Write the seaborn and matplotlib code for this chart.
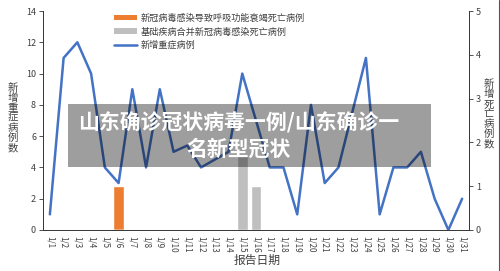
import numpy as np
import pandas as pd
import matplotlib
matplotlib.use("Agg")
import matplotlib.pyplot as plt
import seaborn as sns
from matplotlib.patches import Patch, Rectangle
from matplotlib.lines import Line2D

# ---------------- data ----------------
dates = [f"1/{d}" for d in range(1, 32)]
severe_cases = [1, 11, 12, 10, 4, 3, 9, 4, 9, 5, 5.4, 4, 4.5, 5, 10, 7, 4, 4, 1, 8,
                3, 4, 7.5, 11, 1, 4, 4, 5, 2, 0, 2]
resp_deaths = [0, 0, 0, 0, 0, 1, 0, 0, 0, 0, 0, 0, 0, 0, 0, 0, 0, 0, 0, 0,
               0, 0, 0, 0, 0, 0, 0, 0, 0, 0, 0]
basic_deaths = [0, 0, 0, 0, 0, 0, 0, 0, 0, 0, 0, 0, 0, 0, 1.7, 1, 0, 0, 0, 0,
                0, 0, 0, 0, 0, 0, 0, 0, 0, 0, 0]
left_ticks = [0, 2, 4, 6, 8, 10, 12, 14]
right_ticks = [0, 1, 2, 3, 4, 5]
legend_labels = ["新冠病毒感染导致呼吸功能衰竭死亡病例", "基础疾病合并新冠病毒感染死亡病例", "新增重症病例"]
left_label = "新增重症病例数"
right_label = "新增死亡病例数"
x_label = "报告日期"
overlay_title = "山东确诊冠状病毒一例/山东确诊一\n名新型冠状"

df = pd.DataFrame({"date": dates, "severe": severe_cases,
                   "resp": resp_deaths, "basic": basic_deaths})
df["pos"] = np.arange(len(df))

# ---------------- style ----------------
sns.set_style("white")
plt.rcParams["font.family"] = ["Noto Sans CJK SC", "DejaVu Sans"]
plt.rcParams["axes.unicode_minus"] = False

ORANGE = "#ED7D31"
GRAY = "#BFBFBF"
BLUE = "#4472C4"
TXT = "#404040"

fig = plt.figure(figsize=(5.0, 2.71), dpi=100)
ax = fig.add_axes([0.086, 0.1513, 0.852, 0.8081])
ax2 = ax.twinx()

# bars on right axis
sns.barplot(data=df, x="pos", y="resp", color=ORANGE, width=0.8, ax=ax2,
            saturation=1, native_scale=True)
sns.barplot(data=df, x="pos", y="basic", color=GRAY, width=0.8, ax=ax2,
            saturation=1, native_scale=True)

# line on left axis
sns.lineplot(data=df, x="pos", y="severe", color=BLUE, linewidth=1.8, ax=ax)

ax.set_zorder(ax2.get_zorder() + 1)
ax.patch.set_visible(False)

n = len(dates)
for a in (ax, ax2):
    a.set_xlim(-0.5, n - 0.5)
ax.set_ylim(0, 14)
ax2.set_ylim(0, 5)

# x ticks: boundaries as major ticks, labels at centers
ax.set_xticks(np.arange(n + 1) - 0.5)
ax.set_xticklabels([])
ax.set_xticks(np.arange(n), minor=True)
ax.set_xticklabels(dates, minor=True, rotation=-90, fontsize=5.8, color=TXT)
ax.tick_params(axis="x", which="major", length=3, width=0.6, color="#333333", direction="out")
ax.tick_params(axis="x", which="minor", length=0, pad=4)
ax2.set_xticks([])

ax.set_yticks(left_ticks)
ax.set_yticklabels([str(t) for t in left_ticks], fontsize=6.5, color=TXT)
ax.tick_params(axis="y", length=3, width=0.6, color="#333333", direction="out", pad=2, left=True)
ax2.set_yticks(right_ticks)
ax2.set_yticklabels([str(t) for t in right_ticks], fontsize=6.5, color=TXT)
ax2.tick_params(axis="y", length=3, width=0.6, color="#333333", direction="out", pad=2, right=True)

for a in (ax, ax2):
    a.spines["top"].set_visible(False)
    for s in ("left", "right", "bottom"):
        a.spines[s].set_color("#333333")
        a.spines[s].set_linewidth(0.7)
ax.spines["right"].set_visible(False)
ax2.spines["left"].set_visible(False)
ax2.spines["bottom"].set_visible(False)

ax.set_xlabel("")
ax.set_ylabel("")
ax2.set_xlabel("")
ax2.set_ylabel("")

# axis titles (stacked characters)
fig.text(12.5 / 500, 1 - 118 / 271, "\n".join(left_label), ha="center", va="center",
         fontsize=7.5, color=TXT, linespacing=1.0)
fig.text(489 / 500, 1 - 114 / 271, "\n".join(right_label), ha="center", va="center",
         fontsize=7.5, color=TXT, linespacing=1.0)
fig.text(257 / 500, 1 - 260 / 271, x_label, ha="center", va="center", fontsize=8.5, color=TXT)

# legend
handles = [Patch(facecolor=ORANGE, edgecolor="none"),
           Patch(facecolor=GRAY, edgecolor="none"),
           Line2D([0], [0], color=BLUE, linewidth=1.8)]
leg = ax.legend(handles, legend_labels, loc="upper left", bbox_to_anchor=(0.158, 1.005),
                frameon=False, fontsize=6.6, handlelength=2.5, handleheight=0.55,
                handletextpad=0.4, labelspacing=0.5, borderaxespad=0)
for t in leg.get_texts():
    t.set_color(TXT)

# overlay banner
fig.patches.append(Rectangle((68 / 500, 1 - 167 / 271), 363 / 500, 63 / 271,
                             transform=fig.transFigure, facecolor="black", alpha=0.38,
                             edgecolor="none", zorder=5))
fig.text(239 / 500, 1 - 136 / 271, overlay_title, ha="center", va="center",
         multialignment="center", fontsize=15, fontweight="bold", color="white",
         linespacing=1.3, zorder=6)

# right edge frame line
fig.add_artist(Line2D([499.3 / 500, 499.3 / 500], [0, 1], transform=fig.transFigure,
                      color="#555555", linewidth=0.8))

fig.savefig("out.png", dpi=100)
